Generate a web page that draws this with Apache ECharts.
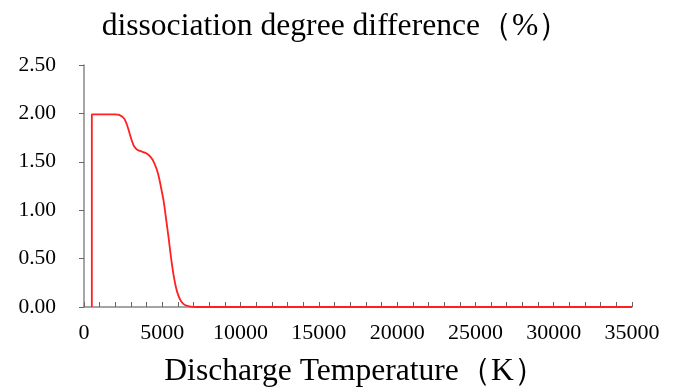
<!DOCTYPE html>
<html>
<head>
<meta charset="utf-8">
<script src="https://cdn.jsdelivr.net/npm/echarts@6/dist/echarts.min.js"></script>
<style>
  html, body { margin: 0; padding: 0; background: #fff; }
  #chart { width: 680px; height: 388px; }
</style>
</head>
<body>
<div id="chart"></div>
<script>
// Dissociation degree difference vs. discharge temperature
const temperatureK = [500, 500, 1000, 1500, 2000, 2250, 2550, 2750, 2900, 3050, 3200, 3400, 3700, 4000, 4250, 4450, 4650, 4800, 4950, 5100, 5250, 5400, 5550, 5700, 5850, 6000, 6200, 6450, 6800, 7200, 35000];
const differencePct = [0, 1.99, 1.99, 1.99, 1.99, 1.985, 1.95, 1.88, 1.80, 1.72, 1.66, 1.625, 1.605, 1.585, 1.55, 1.50, 1.42, 1.33, 1.21, 1.08, 0.90, 0.72, 0.52, 0.35, 0.22, 0.13, 0.06, 0.02, 0.005, 0, 0];
const xLabelValues = [0, 5000, 10000, 15000, 20000, 25000, 30000, 35000];
const yLabelValues = [0, 0.5, 1.0, 1.5, 2.0, 2.5];

const titleText = 'dissociation degree difference（%）';
const xAxisTitle = 'Discharge Temperature（K）';
const serif = '"Liberation Serif", "Times New Roman", serif';

const chart = echarts.init(document.getElementById('chart'), null, { renderer: 'canvas' });

chart.setOption({
  animation: false,
  backgroundColor: '#ffffff',
  title: [
    {
      text: titleText,
      left: 331, top: 6, textAlign: 'center',
      textStyle: { fontFamily: serif, fontSize: 31.6, fontWeight: 'normal', color: '#000' }
    },
    {
      text: xAxisTitle,
      left: 350, top: 351, textAlign: 'center',
      textStyle: { fontFamily: serif, fontSize: 31.6, fontWeight: 'normal', color: '#000' }
    }
  ],
  grid: { left: 84, right: 48, top: 65, bottom: 81, containLabel: false },
  xAxis: {
    type: 'value',
    min: 0, max: 35000, interval: 1000,
    splitLine: { show: false },
    axisLine: { lineStyle: { color: '#888', width: 1.5 } },
    axisTick: { inside: true, length: 5, lineStyle: { color: '#666' } },
    axisLabel: {
      margin: 15,
      fontFamily: serif, fontSize: 22, color: '#000',
      formatter: v => xLabelValues.includes(v) ? String(v) : ''
    }
  },
  yAxis: {
    type: 'value',
    min: 0, max: 2.5, interval: 0.5,
    splitLine: { show: false },
    axisLine: { show: true, lineStyle: { color: '#888', width: 1.5 } },
    axisTick: { show: true, length: 5, lineStyle: { color: '#666' } },
    axisLabel: {
      margin: 28,
      fontFamily: serif, fontSize: 21.5, color: '#000',
      formatter: v => yLabelValues.some(t => Math.abs(t - v) < 1e-9) ? v.toFixed(2) : ''
    }
  },
  series: [{
    type: 'line',
    data: temperatureK.map((t, i) => [t, differencePct[i]]),
    showSymbol: false,
    smooth: 0.25,
    lineStyle: { color: '#ff2020', width: 1.8 },
    itemStyle: { color: '#ff2020' }
  }]
});
</script>
</body>
</html>
